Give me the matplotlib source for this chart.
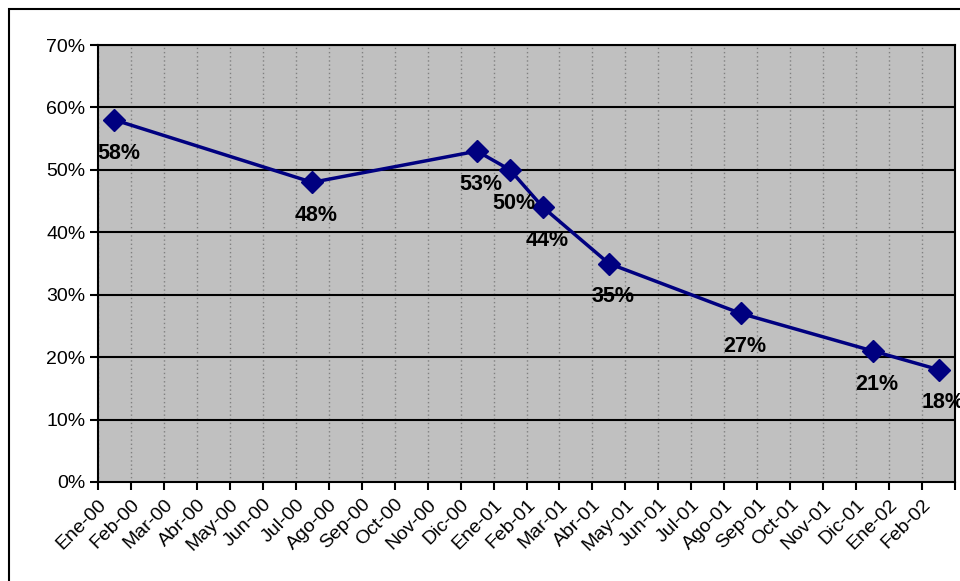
import numpy as np
import matplotlib
matplotlib.use("Agg")
import matplotlib.pyplot as plt
from matplotlib.patches import Rectangle

plt.rcParams['font.family'] = ['Liberation Sans', 'DejaVu Sans']

# month labels on the category axis
months = ['Ene-00', 'Feb-00', 'Mar-00', 'Abr-00', 'May-00', 'Jun-00', 'Jul-00',
          'Ago-00', 'Sep-00', 'Oct-00', 'Nov-00', 'Dic-00', 'Ene-01', 'Feb-01',
          'Mar-01', 'Abr-01', 'May-01', 'Jun-01', 'Jul-01', 'Ago-01', 'Sep-01',
          'Oct-01', 'Nov-01', 'Dic-01', 'Ene-02', 'Feb-02']

# measured points
point_months = ['Ene-00', 'Jul-00', 'Dic-00', 'Ene-01', 'Feb-01', 'Abr-01',
                'Ago-01', 'Dic-01', 'Feb-02']
point_values = [0.58, 0.48, 0.53, 0.50, 0.44, 0.35, 0.27, 0.21, 0.18]

fig = plt.figure(figsize=(9.6, 5.81), dpi=100)
W, H = 960, 581
ax = fig.add_axes([98 / W, 1 - 482 / H, (955 - 98) / W, (482 - 45) / H])
ax.set_facecolor('#C0C0C0')

# outer chart frame
fig.patches.append(Rectangle((9 / W, -0.05), 1.2, 1 - 9 / H + 0.05,
                             transform=fig.transFigure, fill=False,
                             edgecolor='black', linewidth=1.5))

# points sit in the middle of their month category
xs = [months.index(m) + 0.5 for m in point_months]
ax.plot(xs, point_values, color='#000080', linewidth=2.5, marker='D',
        markersize=11, zorder=4, clip_on=False)

for x, v in zip(xs, point_values):
    ax.annotate(f'{v * 100:.0f}%', (x, v), xytext=(3, -24),
                textcoords='offset points', ha='center', va='center',
                fontsize=15.5, fontweight='bold', zorder=5, annotation_clip=False)

ax.set_xlim(0, len(months))
ax.set_ylim(0, 0.7)

ax.set_xticks(np.arange(len(months) + 1))
ax.set_xticklabels(months + [''], rotation=45, ha='right', va='top',
                   rotation_mode='anchor', fontsize=14)
ax.set_yticks(np.arange(0, 0.71, 0.1))
ax.set_yticklabels([f'{int(round(t * 100))}%' for t in np.arange(0, 0.71, 0.1)],
                   fontsize=14)
ax.tick_params(axis='both', direction='out', length=6, width=1.5, color='black')
ax.tick_params(axis='x', pad=4)
ax.tick_params(axis='y', pad=3)

ax.grid(axis='x', color='#808080', linestyle=(0, (1, 2)), linewidth=1)
for y in np.arange(0.1, 0.71, 0.1):
    ax.axhline(y, color='black', linewidth=1.5, zorder=1)
ax.set_axisbelow(True)

for s in ax.spines.values():
    s.set_linewidth(1.5)
    s.set_color('black')

fig.savefig('out.png', dpi=100)
